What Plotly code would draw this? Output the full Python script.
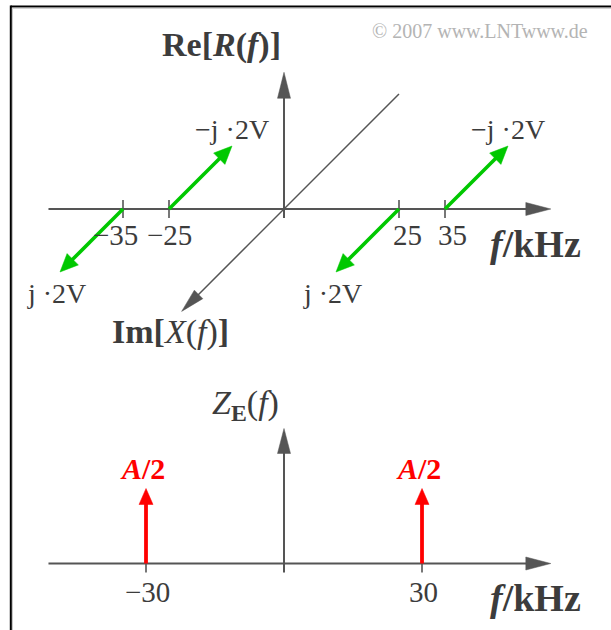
import math
import plotly.graph_objects as go

# ---------------- data ----------------
# R(f): purely imaginary spectral lines (weights in V along the Im axis)
re_freqs = [-35, -25, 25, 35]            # kHz
re_imag = [2, -2, 2, -2]                 # V  (j·2V / −j·2V)
re_tick_labels = ["−35", "−25", "25", "35"]

# Z_E(f): two real Dirac lines with weight A/2
ze_freqs = [-30, 30]                     # kHz
ze_weights = [0.5, 0.5]                  # in units of A
ze_tick_labels = ["−30", "30"]

# ---------------- geometry / style ----------------
W, H = 611, 630
X0, SX = 284.0, 4.6        # pixel of f=0, pixels per kHz
Y0, SY = 209.0, 31.5       # upper panel: pixel of Re=0, pixels per V
Y2, SY2 = 563.5, 150.0     # lower panel: pixel of 0, pixels per A

F_LEFT, F_RIGHT = -51.2, 58.0      # extent of the frequency axes (kHz)
V_TOP = 4.34                       # upper vertical axis tip (V)
A_TOP = 0.90                       # lower vertical axis tip (A)
IM_BACK, IM_FRONT = -3.65, 3.25    # extent of the oblique Im axis (V)

AXIS_C = "#555555"
TEXT_C = "#3c3c3c"
GREEN = "#00c800"
RED = "#ff0000"
FONT = "Liberation Serif, Times New Roman, serif"

TICK_NUDGE = {-35: -8, -25: 0, 25: 8, 35: 7}


def to_px(f, v, lower):
    if lower:
        return X0 + SX * f, Y2 - SY2 * v
    return X0 + SX * f, Y0 - SY * v


def from_px(x, y, lower):
    if lower:
        return (x - X0) / SX, (Y2 - y) / SY2
    return (x - X0) / SX, (Y0 - y) / SY


def im_offset(w):
    """Oblique projection of an imaginary value w (V): down-left for w>0."""
    return -SY * w / SX, -w


fig = go.Figure()


def add_line(f0, v0, f1, v1, lower, color, width):
    fig.add_trace(go.Scatter(
        x=[f0, f1], y=[v0, v1], mode="lines",
        line=dict(color=color, width=width),
        yaxis="y2" if lower else "y", hoverinfo="skip", showlegend=False))


def add_arrow(f0, v0, f1, v1, lower, color, width, head_len, head_w):
    a, b = to_px(f0, v0, lower)
    c, d = to_px(f1, v1, lower)
    L = math.hypot(c - a, d - b)
    ux, uy = (c - a) / L, (d - b) / L
    nx, ny = -uy, ux
    bx, by = c - ux * head_len, d - uy * head_len
    sf, sv = from_px(bx + ux * 1.5, by + uy * 1.5, lower)
    add_line(f0, v0, sf, sv, lower, color, width)
    pts = [(c, d),
           (bx + nx * head_w / 2, by + ny * head_w / 2),
           (bx - nx * head_w / 2, by - ny * head_w / 2),
           (c, d)]
    data = [from_px(x, y, lower) for x, y in pts]
    fig.add_trace(go.Scatter(
        x=[p[0] for p in data], y=[p[1] for p in data], mode="lines",
        fill="toself", fillcolor=color, line=dict(color=color, width=0.5),
        yaxis="y2" if lower else "y", hoverinfo="skip", showlegend=False))


# ---------------- upper panel: R(f) ----------------
tick_up = 9 / SY
# frequency axis
add_arrow(F_LEFT, 0, F_RIGHT, 0, False, AXIS_C, 2.2, 25, 13)
# Re axis (with a short stub below the f axis)
add_line(0, -tick_up, 0, 0, False, AXIS_C, 2)
add_arrow(0, 0, 0, V_TOP, False, AXIS_C, 2, 26, 13)
# oblique Im axis
bf, bv = im_offset(IM_BACK)
ff, fv = im_offset(IM_FRONT)
add_arrow(bf, bv, ff, fv, False, AXIS_C, 1.5, 24, 12)
# ticks
for f in re_freqs:
    add_line(f, -tick_up, f, tick_up, False, AXIS_C, 1.6)
# green spectral arrows
for f, w in zip(re_freqs, re_imag):
    df, dv = im_offset(w)
    add_arrow(f, 0, f + df, dv, False, GREEN, 3.6, 18, 16)

# ---------------- lower panel: Z_E(f) ----------------
tick_lo = 9 / SY2
add_arrow(F_LEFT, 0, F_RIGHT, 0, True, AXIS_C, 2.2, 25, 13)
add_line(0, -tick_lo, 0, 0, True, AXIS_C, 2)
add_arrow(0, 0, 0, A_TOP, True, AXIS_C, 2, 25, 13)
for f in ze_freqs:
    add_line(f, -tick_lo, f, 0, True, AXIS_C, 1.6)
for f, a in zip(ze_freqs, ze_weights):
    add_arrow(f, 0, f, a, True, RED, 3.8, 16, 14)

# ---------------- text ----------------
ann = []


def text(x, y, s, size, color=TEXT_C, yref="y", xanchor="center",
         yanchor="middle", xshift=0, yshift=0, xref="x"):
    ann.append(dict(x=x, y=y, xref=xref, yref=yref, text=s, showarrow=False,
                    xanchor=xanchor, yanchor=yanchor, xshift=xshift,
                    yshift=yshift, font=dict(family=FONT, size=size, color=color)))


text(0, V_TOP, "<b>Re[<i>R</i>(<i>f</i>)]</b>", 34, xanchor="right",
     xshift=-1, yshift=27)
text(ff, fv, "<b>Im[</b><i>X</i>(<i>f</i>)<b>]</b>", 34, xshift=-11, yshift=-21)
text(F_RIGHT, 0, "<b><i>f</i>/kHz</b>", 38, xshift=-15, yshift=-35)
for f, lab in zip(re_freqs, re_tick_labels):
    text(f, 0, lab, 29, xshift=TICK_NUDGE[f], yshift=-26)
for f, w in zip(re_freqs, re_imag):
    df, dv = im_offset(w)
    lab = ("−" if w < 0 else "") + "j ·%dV" % abs(w)
    if w < 0:
        text(f + df, dv, lab, 28, yshift=17)
    else:
        text(f + df, dv, lab, 28, xshift=-4, yshift=-21)

text(0, A_TOP, "<i>Z</i><sub><b>E</b></sub>(<i>f</i>)", 34, yref="y2",
     xanchor="right", xshift=-3, yshift=24)
text(F_RIGHT, 0, "<b><i>f</i>/kHz</b>", 38, yref="y2", xshift=-15, yshift=-34)
for f, lab in zip(ze_freqs, ze_tick_labels):
    text(f, 0, lab, 29, yref="y2", xshift=1.5, yshift=-28)
for f, a in zip(ze_freqs, ze_weights):
    lab = "<b><i>A</i>/%d</b>" % round(1 / a)
    text(f, a, lab, 30, color=RED, yref="y2", xshift=-4, yshift=20)

text(480 / W, 1 - 31 / H, "© 2007 www.LNTwww.de", 20, color="#b4b4b4",
     xref="paper", yref="paper")

# frame (top and left edges)
shapes = [
    dict(type="line", xref="paper", yref="paper", x0=10.8 / W, x1=1,
         y0=1 - 6.5 / H, y1=1 - 6.5 / H, line=dict(color="#000000", width=2)),
    dict(type="line", xref="paper", yref="paper", x0=10.8 / W, x1=10.8 / W,
         y0=0, y1=1 - 5.5 / H, line=dict(color="#000000", width=2)),
    dict(type="line", xref="paper", yref="paper", x0=12.5 / W, x1=1,
         y0=1 - 8.3 / H, y1=1 - 8.3 / H, line=dict(color="#c8c8c8", width=1)),
    dict(type="line", xref="paper", yref="paper", x0=12.5 / W, x1=12.5 / W,
         y0=0, y1=1 - 8.3 / H, line=dict(color="#c8c8c8", width=1)),
]

fig.update_layout(
    width=W, height=H, autosize=False,
    margin=dict(l=0, r=0, t=0, b=0, pad=0),
    paper_bgcolor="white", plot_bgcolor="white",
    showlegend=False,
    xaxis=dict(range=[-X0 / SX, (W - X0) / SX], visible=False, fixedrange=True),
    yaxis=dict(range=[(Y0 - H) / SY, Y0 / SY], visible=False, fixedrange=True),
    yaxis2=dict(range=[(Y2 - H) / SY2, Y2 / SY2], visible=False,
                fixedrange=True, overlaying="y"),
    annotations=ann,
    shapes=shapes,
)

fig.write_html("out.html")
